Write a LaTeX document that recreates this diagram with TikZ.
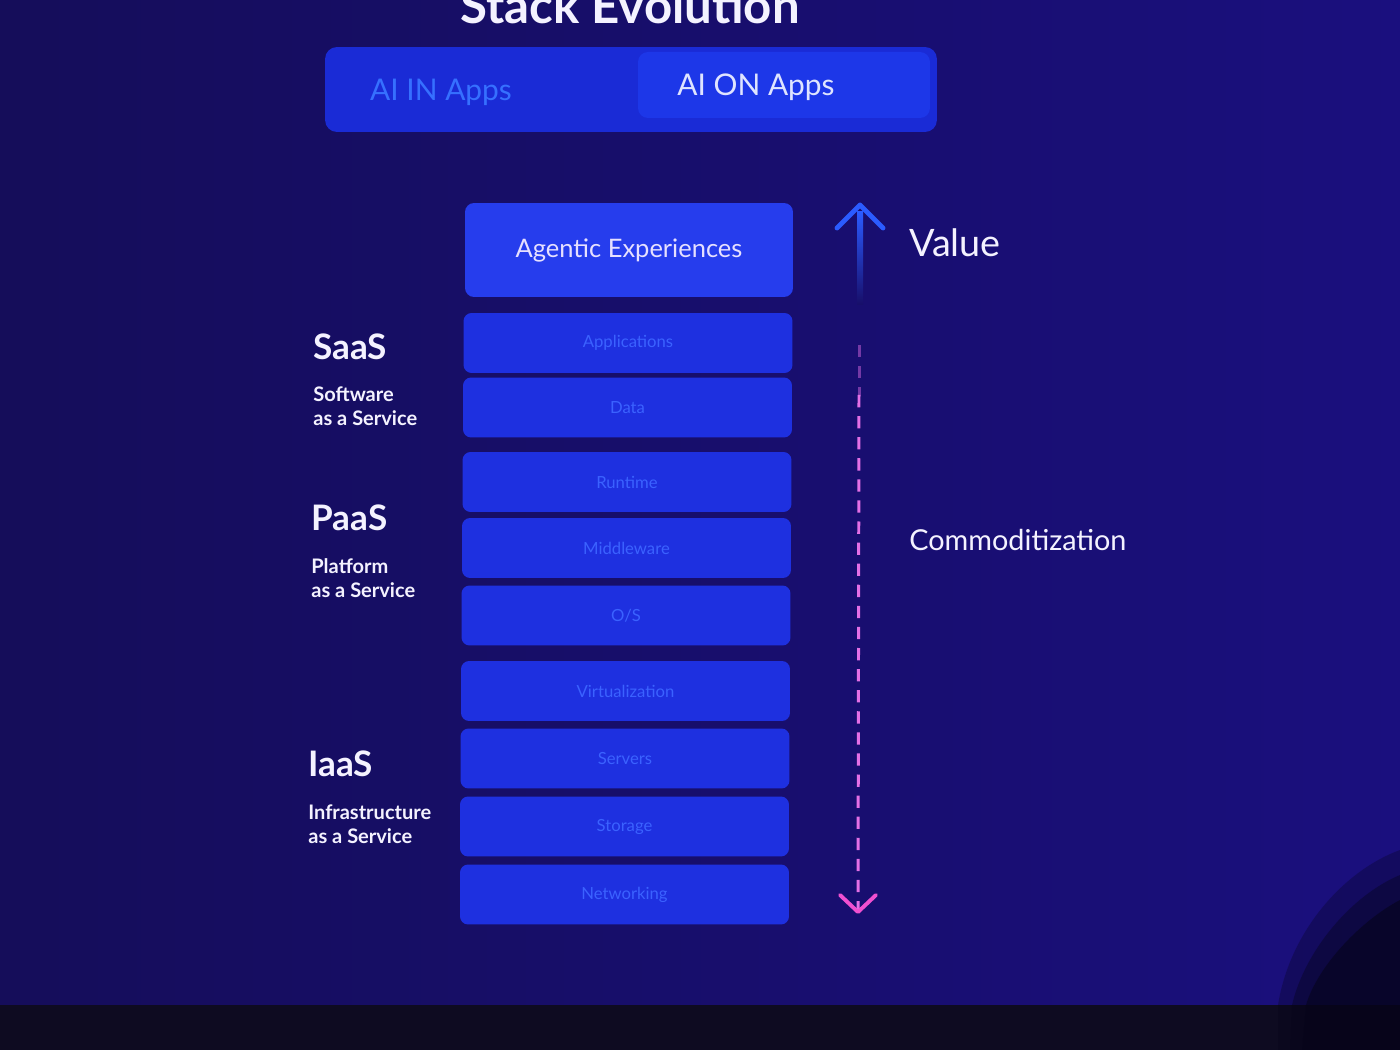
\documentclass[tikz,border=0pt]{standalone}
\usepackage{fontspec}
\setmainfont{Lato}
\definecolor{bgL}{HTML}{150D5A}
\definecolor{bgR}{HTML}{1A0F7E}
\definecolor{stripC}{HTML}{0E0B21}
\definecolor{blobC}{HTML}{06041A}
\definecolor{toggleC}{HTML}{1A2BD6}
\definecolor{pillC}{HTML}{1D37E8}
\definecolor{boxC}{HTML}{1E30E0}
\definecolor{agentC}{HTML}{263DED}
\definecolor{boxText}{HTML}{3B62FF}
\definecolor{inText}{HTML}{3670FF}
\definecolor{onText}{HTML}{DFE4FF}
\definecolor{agentText}{HTML}{E6E0FF}
\definecolor{labelC}{HTML}{F4F2FF}
\definecolor{arrowBlue}{HTML}{2B5BFF}
\definecolor{pinkC}{HTML}{E46FE6}
\definecolor{pinkHead}{HTML}{F050D0}
\begin{document}
\begin{tikzpicture}[x=0.02cm,y=-0.02cm,
  layer/.style={fill=boxC, rounded corners=0.16cm, minimum width=6.58cm, minimum height=1.2cm, inner sep=0pt,
    text=boxText, font=\fontsize{9.5}{11}\selectfont},
  agent/.style={fill=agentC, rounded corners=0.18cm, minimum width=6.56cm, minimum height=1.88cm, inner sep=0pt,
    text=agentText, font=\fontsize{14.5}{17}\selectfont},
  big/.style={anchor=west, text=labelC, inner sep=0pt, font=\fontsize{20}{24}\selectfont\bfseries},
  sub/.style={anchor=west, text=labelC, inner sep=0pt, align=left, font=\fontsize{11.4}{13.7}\selectfont\bfseries},
  side/.style={anchor=west, text=labelC, inner sep=0pt},
  chev/.style={line width=2.8pt, line cap=round, line join=round}
]
\useasboundingbox (0,0) rectangle (1400,1050);
% background
\fill[left color=bgL, right color=bgR] (0,0) rectangle (1400,1005);
\fill[stripC] (0,1005) rectangle (1400,1050);
% dark shadow at the lower right corner (soft edge)
\fill[blobC, opacity=0.3] (1400,850) .. controls (1345,870) and (1290,930) .. (1278,1005) -- (1278,1050) -- (1400,1050) -- cycle;
\fill[blobC, opacity=0.4] (1400,875) .. controls (1352,895) and (1305,950) .. (1292,1005) -- (1290,1050) -- (1400,1050) -- cycle;
\fill[blobC, opacity=0.6] (1400,900) .. controls (1362,920) and (1318,965) .. (1306,1005) -- (1302,1050) -- (1400,1050) -- cycle;
% title
\node[anchor=base, text=labelC, inner sep=0pt, font=\fontsize{28}{32}\selectfont\bfseries] (title) at (630,24) {Stack Evolution};
% toggle
\node[fill=toggleC, rounded corners=0.24cm, minimum width=12.24cm, minimum height=1.7cm] (tog) at (631,89.5) {};
\node[fill=pillC, rounded corners=0.2cm, minimum width=5.84cm, minimum height=1.32cm] (pill) at (784,85) {};
\node[text=inText, inner sep=0pt, font=\fontsize{17}{20}\selectfont] (ain) at (441,92) {AI IN Apps};
\node[text=onText, inner sep=0pt, font=\fontsize{17}{20}\selectfont] (aon) at (756,87) {AI ON Apps};
% stack
\node[agent] (agentic) at (629,250) {Agentic Experiences};
\node[layer] (apps) at (628,343) {Applications};
\node[layer] (data) at (627.5,407.5) {Data};
\node[layer] (runtime) at (627,482) {Runtime};
\node[layer] (mid) at (626.5,548) {Middleware};
\node[layer] (os) at (626,615.5) {O/S};
\node[layer] (virt) at (625.5,691) {Virtualization};
\node[layer] (serv) at (625,758.5) {Servers};
\node[layer] (stor) at (624.5,826.5) {Storage};
\node[layer] (net) at (624.5,894.5) {Networking};
% left labels
\node[big] (saas) at (313,347) {SaaS};
\node[sub] (saasd) at (313,406) {Software\\as a Service};
\node[big] (paas) at (311,518) {PaaS};
\node[sub] (paasd) at (311,578) {Platform\\as a Service};
\node[big] (iaas) at (308,764) {IaaS};
\node[sub] (iaasd) at (308,824) {Infrastructure\\as a Service};
% right labels
\node[side, font=\fontsize{21.5}{25}\selectfont] (value) at (909,243) {Value};
\node[side, font=\fontsize{16.4}{19}\selectfont] (comm) at (909,540) {Commoditization};
% value arrow
\coordinate (vtop) at (860,205);
\coordinate (vbot) at (860,305);
\fill[top color=arrowBlue, bottom color=bgL!60!bgR] (857,212) rectangle (863,305);
\draw[arrowBlue, chev] (vtop) ++(-23,23) -- (vtop) -- ++(23,23);
% commoditization arrow
\coordinate (dtop) at (859,345);
\coordinate (dmid) at (859,395);
\coordinate (dbot) at (858,912);
\draw[pinkC, opacity=0.45, line width=1.7pt, dash pattern=on 7pt off 5pt] (dtop) -- (dmid);
\draw[pinkC, line width=1.7pt, dash pattern=on 7pt off 5pt] (dmid) -- (dbot);
\draw[pinkHead, chev, line width=2.2pt] (dbot) ++(-18,-17) -- (dbot) -- ++(18,-17);
\end{tikzpicture}
\end{document}
